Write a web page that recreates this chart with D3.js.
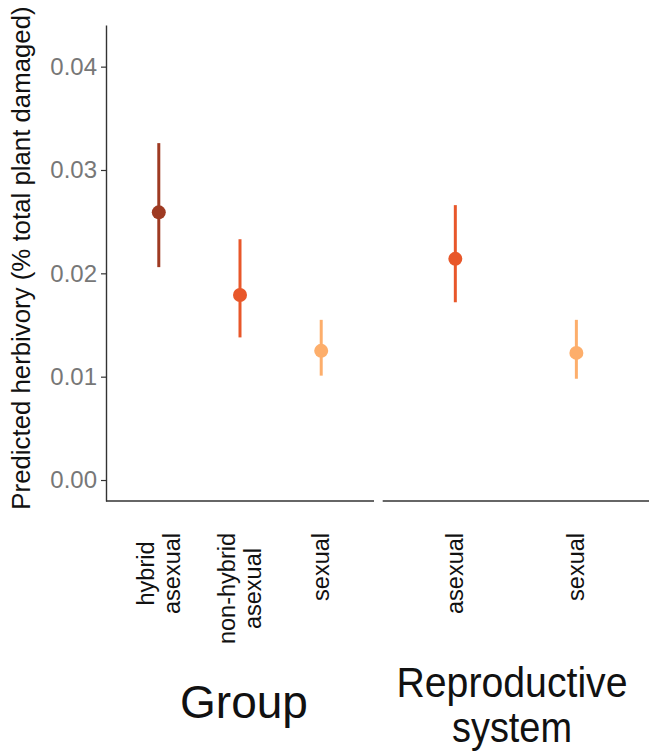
<!DOCTYPE html>
<html>
<head>
<meta charset="utf-8">
<script src="https://cdn.jsdelivr.net/npm/d3@7"></script>
<style>
  html, body { margin: 0; padding: 0; background: #fff; }
  svg { display: block; font-family: "Liberation Sans", Arial, Helvetica, sans-serif; }
</style>
</head>
<body>
<svg id="chart" width="649" height="751"></svg>
<script>
// ---- data ----
const groupLabels = ["hybrid asexual", "non-hybrid asexual", "sexual"];
const groupLines  = [["hybrid", "asexual"], ["non-hybrid", "asexual"], ["sexual"]];
const groupFit    = [0.0259, 0.0179, 0.0125];
const groupLower  = [0.0206, 0.0138, 0.0101];
const groupUpper  = [0.0326, 0.0233, 0.0155];
const groupColors = ["#9e3a22", "#e8572a", "#fdae6b"];

const reproLabels = ["asexual", "sexual"];
const reproLines  = [["asexual"], ["sexual"]];
const reproFit    = [0.0214, 0.0123];
const reproLower  = [0.0172, 0.0098];
const reproUpper  = [0.0266, 0.0155];
const reproColors = ["#e8572a", "#fdae6b"];

const yTicks = [0, 0.01, 0.02, 0.03, 0.04];
const yTitle = "Predicted herbivory (% total plant damaged)";
const panelTitles = [["Group"], ["Reproductive", "system"]];

// ---- layout ----
const svg = d3.select("#chart");
const yTop = 25, yBottom = 501;
const y = d3.scaleLinear().domain([-0.00203, 0.04403]).range([yBottom, yTop]);

const xLeft = d3.scalePoint().domain(groupLabels).range([106, 374]).padding(0.65);
const xRight = d3.scalePoint().domain(reproLabels).range([382.7, 649]).padding(0.6);

// y axis
const yAxis = svg.append("g").attr("transform", "translate(106,0)")
  .call(d3.axisLeft(y).tickValues(yTicks).tickFormat(d3.format(".2f")).tickSize(5).tickSizeOuter(0).tickPadding(4));
yAxis.select(".domain").attr("stroke", "#333").attr("stroke-width", 1.4);
yAxis.selectAll(".tick line").attr("stroke", "#333").attr("stroke-width", 1.2);
yAxis.selectAll(".tick text").attr("fill", "#777").attr("font-size", 24).attr("font-family", "Liberation Sans, Arial, sans-serif");

// bottom axis lines per panel
[xLeft, xRight].forEach(sc => {
  const r = sc.range();
  svg.append("line").attr("x1", r[0]).attr("x2", r[1]).attr("y1", yBottom).attr("y2", yBottom)
    .attr("stroke", "#333").attr("stroke-width", 1.4);
});

// y title
svg.append("text")
  .attr("transform", "translate(30,258) rotate(-90)")
  .attr("text-anchor", "middle")
  .attr("font-size", 25.8)
  .attr("fill", "#111")
  .text(yTitle);

// marks
function drawPanel(xs, labels, fit, lo, hi, colors) {
  const g = svg.append("g");
  g.selectAll("line.err").data(labels).enter().append("line")
    .attr("x1", d => xs(d)).attr("x2", d => xs(d))
    .attr("y1", (d, i) => y(lo[i])).attr("y2", (d, i) => y(hi[i]))
    .attr("stroke", (d, i) => colors[i]).attr("stroke-width", 3);
  g.selectAll("circle").data(labels).enter().append("circle")
    .attr("cx", d => xs(d)).attr("cy", (d, i) => y(fit[i])).attr("r", 7)
    .attr("fill", (d, i) => colors[i]);
}
drawPanel(xLeft, groupLabels, groupFit, groupLower, groupUpper, groupColors);
drawPanel(xRight, reproLabels, reproFit, reproLower, reproUpper, reproColors);

// x tick labels (rotated, multiline, block top at y=533, lines centered)
function drawTickLabels(xs, labels, lines) {
  const fs = 23.5, lh = 26.5, top = 533;
  labels.forEach((lab, i) => {
    const ls = lines[i];
    const g = svg.append("g");
    const texts = ls.map((t, j) => g.append("text")
      .attr("font-size", fs).attr("fill", "#111").attr("text-anchor", "middle")
      .attr("dominant-baseline", "central").text(t));
    const maxLen = d3.max(texts, t => t.node().getComputedTextLength());
    const cy = top + maxLen / 2;
    texts.forEach((t, j) => {
      const cx = xs(lab) + (j - (ls.length - 1) / 2) * lh;
      t.attr("transform", `translate(${cx},${cy}) rotate(-90)`);
    });
  });
}
drawTickLabels(xLeft, groupLabels, groupLines);
drawTickLabels(xRight, reproLabels, reproLines);

// panel titles
const r0 = xLeft.range();
svg.append("text").attr("x", (r0[0] + r0[1]) / 2 + 4).attr("y", 718)
  .attr("text-anchor", "middle").attr("font-size", 46).attr("fill", "#111").text(panelTitles[0][0]);
svg.append("text").attr("x", 512).attr("y", 697)
  .attr("text-anchor", "middle").attr("font-size", 42).attr("fill", "#111")
  .attr("textLength", 231).attr("lengthAdjust", "spacingAndGlyphs").text(panelTitles[1][0]);
svg.append("text").attr("x", 512).attr("y", 742)
  .attr("text-anchor", "middle").attr("font-size", 42).attr("fill", "#111")
  .attr("textLength", 120).attr("lengthAdjust", "spacingAndGlyphs").text(panelTitles[1][1]);
</script>
</body>
</html>
